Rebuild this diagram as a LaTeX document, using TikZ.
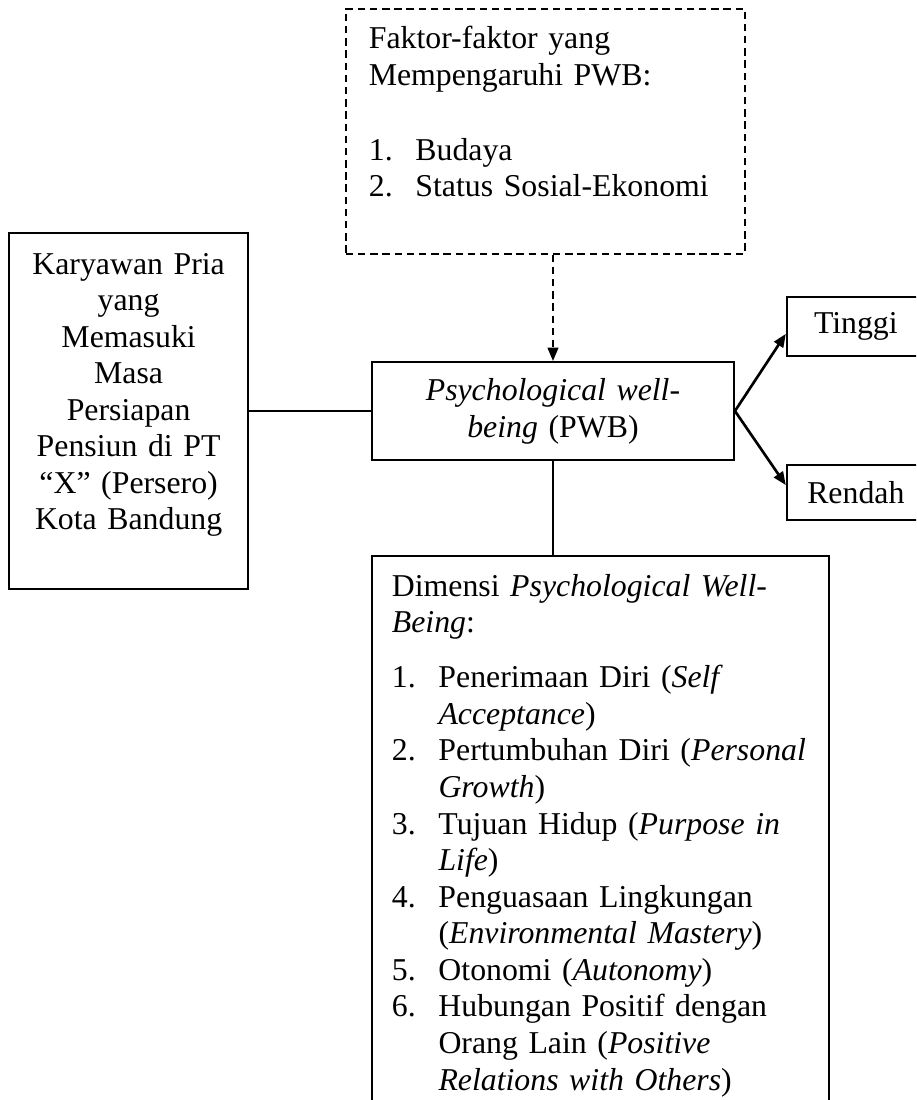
\documentclass[tikz,border=0pt]{standalone}
\usepackage{fontspec}
\setmainfont{Liberation Serif}
\usetikzlibrary{positioning, arrows.meta}

\newcommand{\listnum}[1]{\makebox[17.6pt][l]{#1}}
\newcommand{\listgap}{\hspace*{17.6pt}}

\begin{document}
\begin{tikzpicture}[
    x=0.3774pt, y=-0.3774pt,
    node distance=46pt,
    every node/.style={font=\fontsize{12}{13.8}\selectfont},
    box/.style={
        draw,
        line width=0.75pt,
        inner sep=0pt
    },
    dashbox/.style={
        box,
        line width=0.6pt,
        dash pattern=on 2.8pt off 1.8pt
    },
    link/.style={draw, line width=0.75pt},
    branch/.style={draw, line width=1pt, -{Triangle[length=5pt, width=4pt]}},
    hint/.style={link, dash pattern=on 2.8pt off 1.8pt, -{Triangle[length=5pt, width=4pt]}}
]

\path[use as bounding box, clip] (0,0) rectangle (916,1100);

%% ── Boxes ────────────────────────────────────────────────────────────────────

\node[box, anchor=north west, align=center, text width=126.6pt,
      inner xsep=5pt, inner ysep=4pt, text height=10.7pt, text depth=18.3pt]
    (pwb) at (371,361)
    {\textit{Psychological well-}\\
     \textit{being} (PWB)};

\node[box, left=of pwb, align=center, text width=80pt,
      inner xsep=5.1pt, inner ysep=5pt, text height=10.5pt, text depth=113.9pt]
    (staff)
    {Karyawan Pria\\
     yang\\
     Memasuki\\
     Masa\\
     Persiapan\\
     Pensiun di PT\\
     “X” (Persero)\\
     Kota Bandung};

\node[dashbox, anchor=north west, align=left, text width=133.2pt,
      inner xsep=8.7pt, inner ysep=5pt, text height=10.1pt, text depth=72.4pt]
    (factors) at (345,8)
    {Faktor-faktor yang\\
     Mempengaruhi PWB:\\[14.5pt]
     \listnum{1.}Budaya\\
     \listnum{2.}Status Sosial-Ekonomi};

\node[box, above right=1.5pt and 19.2pt of pwb,
      minimum width=52.1pt, minimum height=22.3pt]
    (tinggi) {Tinggi};

\node[box, below right=1.1pt and 19.2pt of pwb,
      minimum width=52.1pt, minimum height=20.8pt]
    (rendah) {Rendah};

\node[box, below right=35.5pt and 0pt of pwb.south west, align=left,
      text width=157.5pt, inner xsep=7.5pt, inner ysep=5pt,
      text height=10.1pt, text depth=193.9pt]
    (dims)
    {Dimensi \textit{Psychological Well-}\\
     \textit{Being}:\\[7pt]
     \listnum{1.}Penerimaan Diri (\textit{Self}\\
     \listgap\textit{Acceptance})\\
     \listnum{2.}Pertumbuhan Diri (\textit{Personal}\\
     \listgap\textit{Growth})\\
     \listnum{3.}Tujuan Hidup (\textit{Purpose in}\\
     \listgap\textit{Life})\\
     \listnum{4.}Penguasaan Lingkungan\\
     \listgap(\textit{Environmental Mastery})\\
     \listnum{5.}Otonomi (\textit{Autonomy})\\
     \listnum{6.}Hubungan Positif dengan\\
     \listgap Orang Lain (\textit{Positive}\\
     \listgap\textit{Relations with Others})};

%% ── Connectors ───────────────────────────────────────────────────────────────

\draw[link] (staff.east) -- (staff.east -| pwb.west);
\draw[hint] (factors.south -| pwb.north) -- (pwb.north);
\draw[link] (pwb.south) -- (pwb.south |- dims.north);
\draw[branch] (pwb.east) -- (tinggi.186);
\draw[branch] (pwb.east) -- (rendah.174);

\end{tikzpicture}
\end{document}
